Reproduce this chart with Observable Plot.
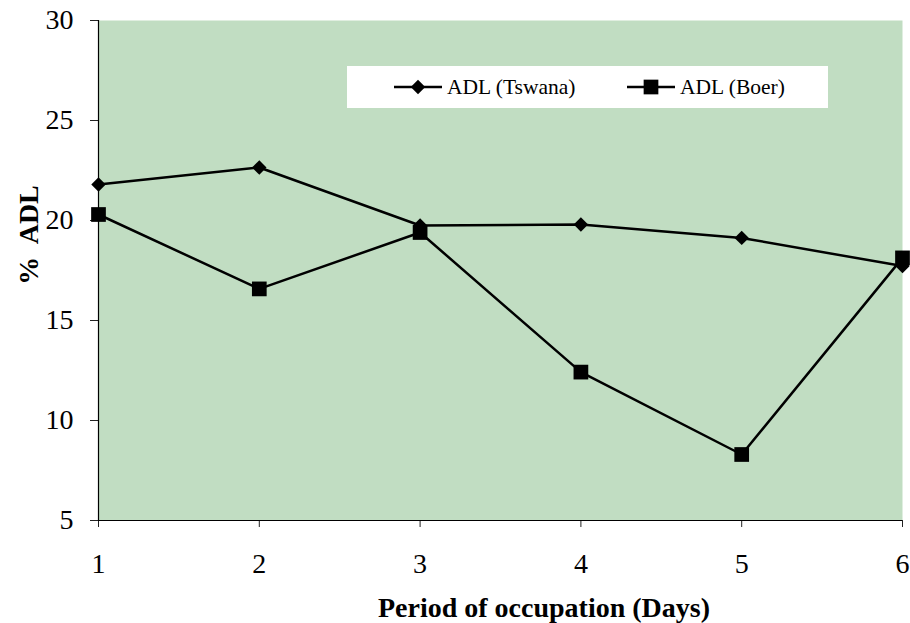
<!DOCTYPE html>
<html>
<head>
<meta charset="utf-8">
<script src="https://cdn.jsdelivr.net/npm/d3@7"></script>
<script src="https://cdn.jsdelivr.net/npm/@observablehq/plot@0.6"></script>
<style>
  html, body { margin: 0; padding: 0; background: #fff; }
  #chart svg { display: block; }
</style>
</head>
<body>
<div id="chart"></div>
<script>
// Acid detergent lignin (% ADL) by period of occupation, two goat breeds
const days = [1, 2, 3, 4, 5, 6];
const adlTswana = [21.8, 22.65, 19.75, 19.8, 19.13, 17.72];
const adlBoer = [20.3, 16.58, 19.4, 12.42, 8.3, 18.13];
const seriesNames = ["ADL (Tswana)", "ADL (Boer)"];
const xTicks = [1, 2, 3, 4, 5, 6];
const yTicks = [5, 10, 15, 20, 25, 30];
const xTitle = "Period of occupation (Days)";
const yTitle = "%  ADL";

const tswana = days.map((d, i) => ({day: d, adl: adlTswana[i]}));
const boer = days.map((d, i) => ({day: d, adl: adlBoer[i]}));

const font = "'Liberation Serif', 'Times New Roman', serif";
const bg = "#c1ddc2";
const xMin = xTicks[0];
const yMin = yTicks[0];

const chart = Plot.plot({
  width: 910,
  height: 623,
  marginLeft: 98,
  marginRight: 8,
  marginTop: 20,
  marginBottom: 103,
  style: {fontFamily: font, fontSize: "28px", background: "#fff", overflow: "visible"},
  x: {domain: [1, 6], axis: null},
  y: {domain: [5, 30], axis: null},
  marks: [
    Plot.frame({fill: bg, stroke: "none"}),
    // tick marks just outside the plotting area
    Plot.ruleY(yTicks, {y: d => d, x1: xMin, x2: xMin, insetLeft: -8, stroke: "#222", strokeWidth: 1}),
    Plot.ruleX(xTicks, {x: d => d, y1: yMin, y2: yMin, insetBottom: -7, stroke: "#222", strokeWidth: 1}),
    // tick labels
    Plot.text(yTicks, {x: xMin, y: d => d, text: d => String(d), dx: -25, textAnchor: "end", lineAnchor: "middle", fontSize: 28, fill: "black"}),
    Plot.text(xTicks, {x: d => d, y: yMin, text: d => String(d), dy: 44, textAnchor: "middle", lineAnchor: "middle", fontSize: 28, fill: "black"}),
    // axis lines
    Plot.ruleX([xMin], {stroke: "black", strokeWidth: 1.2}),
    Plot.ruleY([yMin], {stroke: "black", strokeWidth: 1.2}),
    // series
    Plot.line(tswana, {x: "day", y: "adl", stroke: "black", strokeWidth: 2.5}),
    Plot.line(boer, {x: "day", y: "adl", stroke: "black", strokeWidth: 2.5}),
    Plot.dot(tswana, {x: "day", y: "adl", symbol: "diamond2", r: 6.5, fill: "black", stroke: "none"}),
    Plot.dot(boer, {x: "day", y: "adl", symbol: "square", r: 8.3, fill: "black", stroke: "none"})
  ]
});

document.getElementById("chart").appendChild(chart);

const svg = d3.select(chart);

// Axis titles
svg.append("text")
  .attr("x", 544).attr("y", 617)
  .attr("text-anchor", "middle")
  .style("font-family", font).style("font-weight", "bold").style("font-size", "28px")
  .attr("fill", "black")
  .text(xTitle);

svg.append("text")
  .attr("transform", "translate(38,235) rotate(-90)")
  .attr("text-anchor", "middle")
  .style("font-family", font).style("font-weight", "bold").style("font-size", "28px")
  .attr("fill", "black")
  .text(yTitle);

// Legend box
const lg = svg.append("g");
lg.append("rect").attr("x", 347).attr("y", 66).attr("width", 481).attr("height", 42).attr("fill", "white");
const entries = [
  {name: seriesNames[0], x0: 394, symbol: d3.symbolDiamond2, size: Math.PI * 6.5 * 6.5},
  {name: seriesNames[1], x0: 627, symbol: d3.symbolSquare, size: Math.PI * 8.3 * 8.3}
];
for (const e of entries) {
  const g = lg.append("g");
  g.append("line").attr("x1", e.x0).attr("x2", e.x0 + 48).attr("y1", 87).attr("y2", 87)
    .attr("stroke", "black").attr("stroke-width", 2.5);
  g.append("path").attr("d", d3.symbol(e.symbol, e.size)())
    .attr("transform", `translate(${e.x0 + 24},87)`).attr("fill", "black");
  g.append("text").attr("x", e.x0 + 53).attr("y", 94)
    .attr("text-anchor", "start")
    .style("font-family", font).style("font-size", "21.5px")
    .attr("fill", "black").text(e.name);
}
</script>
</body>
</html>
